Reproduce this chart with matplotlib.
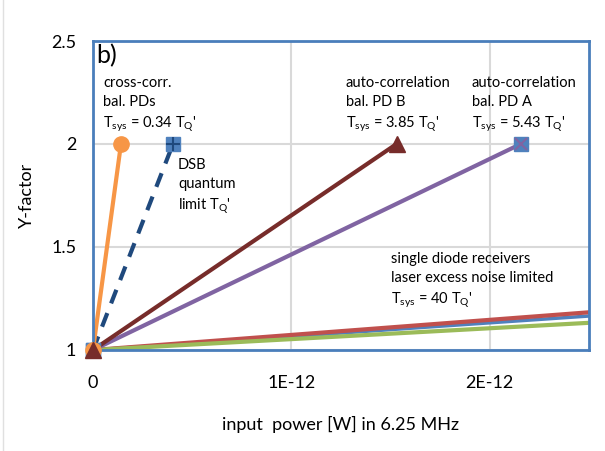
import numpy as np
import matplotlib
matplotlib.use("Agg")
import matplotlib.pyplot as plt

plt.rcParams['font.family'] = ['Lato', 'DejaVu Sans']
plt.rcParams['mathtext.fontset'] = 'custom'
plt.rcParams['mathtext.rm'] = 'Lato'

# start / end points of each line (x in W, y = Y-factor)
x_start = 0.0
y_start = 1.0
orange_x, orange_y = 0.141e-12, 2.0
dsb_x, dsb_y = 0.403e-12, 2.0
pdb_x, pdb_y = 1.53e-12, 2.0
pda_x, pda_y = 2.156e-12, 2.0
single_x = 2.5e-12
single_red_y = 1.183
single_blue_y = 1.165
single_green_y = 1.132

xticks = [0, 1e-12, 2e-12]
xtick_labels = ["0", "1E-12", "2E-12"]
yticks = [1, 1.5, 2, 2.5]
ytick_labels = ["1", "1.5", "2", "2.5"]

fig = plt.figure(figsize=(6.05, 4.51), dpi=100)
ax = fig.add_axes([93/605, 1-350/451, 496/605, 309/451])

# single diode receivers
ax.plot([x_start, single_x], [y_start, single_blue_y], color='#4F81BD', lw=2.5, zorder=3)
ax.plot([x_start, single_x], [y_start, single_red_y], color='#C0504D', lw=3, zorder=3)
ax.plot([x_start, single_x], [y_start, single_green_y], color='#9BBB59', lw=3, zorder=3)

# auto-correlation PD A
ax.plot([x_start, pda_x], [y_start, pda_y], color='#8064A2', lw=3, zorder=4)
ax.plot([x_start, pda_x], [y_start, pda_y], ls='none', marker='s', ms=10,
        mfc='#4F81BD', mec='#4F81BD', zorder=9, clip_on=False)
ax.plot([x_start, pda_x], [y_start, pda_y], ls='none', marker='x', ms=9,
        mec='#8064A2', mew=1.5, zorder=9, clip_on=False)

# auto-correlation PD B
ax.plot([x_start, pdb_x], [y_start, pdb_y], color='#772C2A', lw=3, zorder=4)

# DSB quantum limit
ax.plot([x_start, dsb_x], [y_start, dsb_y], color='#1F497D', lw=3, ls=(0, (3.5, 2.5)), zorder=4)
ax.plot([x_start, dsb_x], [y_start, dsb_y], ls='none', marker='s', ms=10,
        mfc='#4F81BD', mec='#4F81BD', zorder=9, clip_on=False)
ax.plot([x_start, dsb_x], [y_start, dsb_y], ls='none', marker='+', ms=10,
        mec='#1F497D', mew=1.5, zorder=9, clip_on=False)

# cross-correlation
ax.plot([x_start, orange_x], [y_start, orange_y], color='#F79646', lw=3, zorder=5)
ax.plot([x_start, orange_x], [y_start, orange_y], ls='none', marker='o', ms=11,
        mfc='#F79646', mec='#F79646', zorder=10, clip_on=False)

ax.plot([x_start, pdb_x], [y_start, pdb_y], ls='none', marker='^', ms=11,
        mfc='#772C2A', mec='#772C2A', zorder=11, clip_on=False)

ax.set_xlim(0, 2.5e-12)
ax.set_ylim(1, 2.5)
ax.set_xticks(xticks)
ax.set_xticklabels(xtick_labels)
ax.set_yticks(yticks)
ax.set_yticklabels(ytick_labels)
ax.tick_params(axis='both', length=0, labelsize=13)
ax.tick_params(axis='x', pad=18)
ax.tick_params(axis='y', pad=12)
ax.grid(True, color='#D9D9D9', lw=1.5)
ax.set_axisbelow(True)
for sp in ax.spines.values():
    sp.set_color('#4A7EBB')
    sp.set_linewidth(2)
    sp.set_zorder(8)

ax.set_xlabel("input  power [W] in 6.25 MHz", fontsize=13, labelpad=18)
ax.set_ylabel("Y-factor", fontsize=13, labelpad=12)

tq = r"T$_{\mathrm{Q}}$'"
ts = r"T$_{\mathrm{sys}}$"
kw = dict(fontsize=10.5, va='top', ha='left', linespacing=1.45, transform=ax.transAxes)


def px(x, y):
    return ((x - 93) / 496, (350 - y) / 309)


ax.text(*px(96, 44), "b)", fontsize=18, va='top', ha='left', transform=ax.transAxes)
ax.text(*px(103, 76), "cross-corr.\nbal. PDs\n" + ts + " = 0.34 " + tq, **kw)
ax.text(*px(178, 158), "DSB\nquantum\nlimit " + tq, **kw)
ax.text(*px(346, 76), "auto-correlation\nbal. PD B\n" + ts + " = 3.85 " + tq, **kw)
ax.text(*px(472, 76), "auto-correlation\nbal. PD A\n" + ts + " = 5.43 " + tq, **kw)
ax.text(*px(391, 252), "single diode receivers\nlaser excess noise limited\n" + ts + " = 40 " + tq, **kw)

fig.add_artist(plt.Line2D([3/605, 3/605], [0, 1], color='#E0E0E0', lw=1))

fig.savefig("out.png", dpi=100)
